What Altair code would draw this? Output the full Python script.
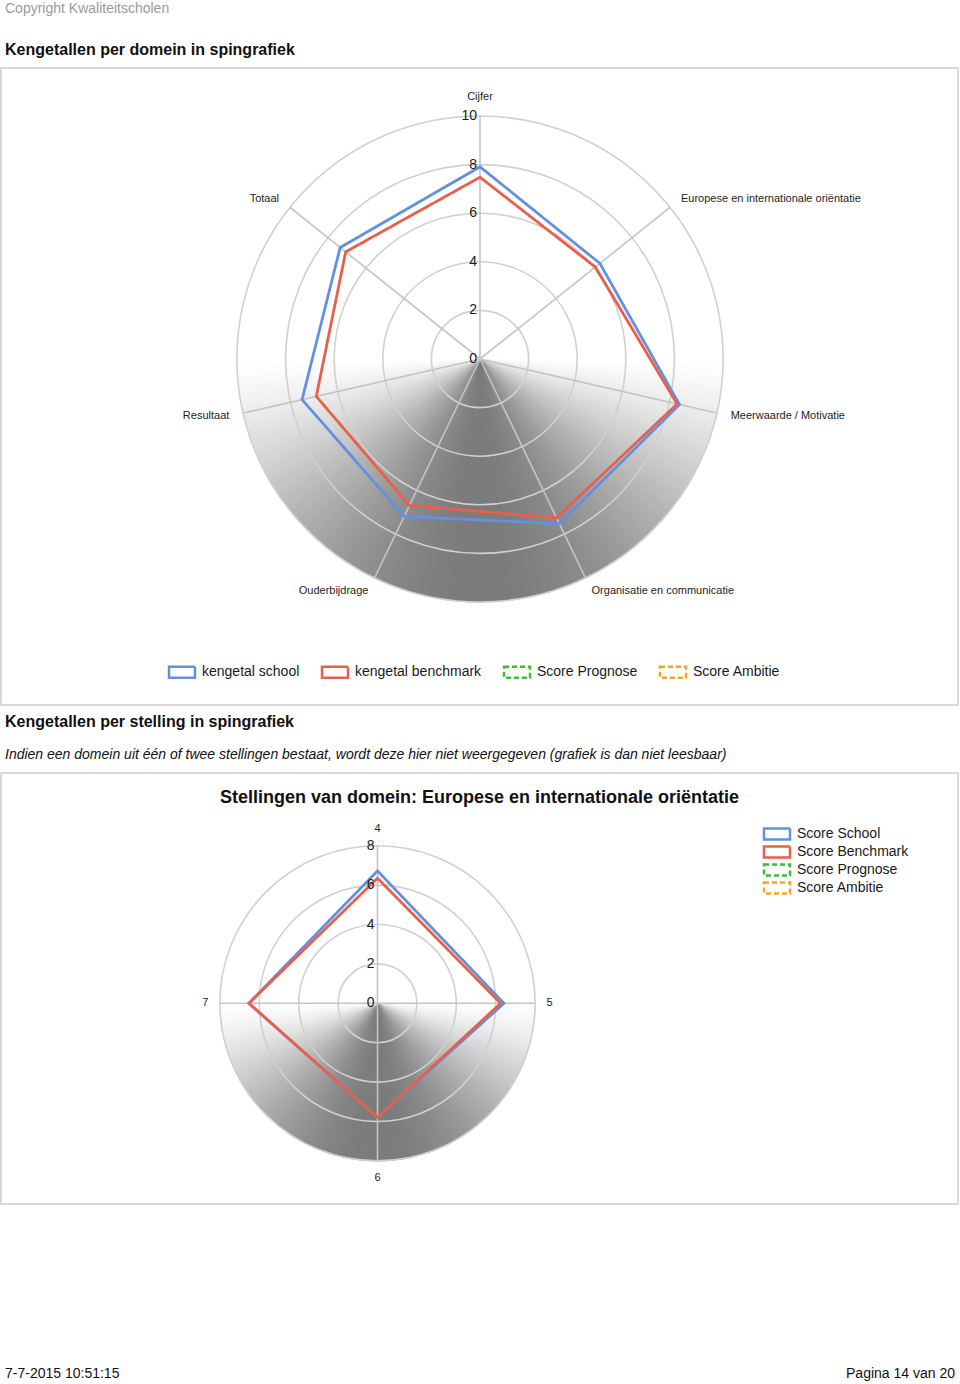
import altair as alt
import pandas as pd

FONT = "Liberation Sans"
W, H = 960, 1384

# ---------------- data: chart 1 (domains) ----------------
domains = [
    "Cijfer",
    "Europese en internationale oriëntatie",
    "Meerwaarde / Motivatie",
    "Organisatie en communicatie",
    "Ouderbijdrage",
    "Resultaat",
    "Totaal",
]
school_1 = [7.91, 6.31, 8.42, 7.52, 7.19, 7.51, 7.36]
bench_1 = [7.48, 6.07, 8.32, 7.26, 6.69, 6.91, 7.07]
ticks_1 = [0, 2, 4, 6, 8, 10]
series_1 = ["kengetal school", "kengetal benchmark", "Score Prognose", "Score Ambitie"]

# ---------------- data: chart 2 (statements) ----------------
statements = ["4", "5", "6", "7"]
school_2 = [6.72, 6.42, 5.79, 6.53]
bench_2 = [6.35, 6.25, 5.79, 6.53]
ticks_2 = [0, 2, 4, 6, 8]
series_2 = ["Score School", "Score Benchmark", "Score Prognose", "Score Ambitie"]

series_colors = ["#6391e0", "#e8604c", "#3dbb3d", "#f0a526"]
series_dashes = [[1, 0], [1, 0], [5, 3], [5, 3]]

# ---------------- page texts ----------------
txt_copyright = "Copyright Kwaliteitscholen"
txt_title1 = "Kengetallen per domein in spingrafiek"
txt_title2 = "Kengetallen per stelling in spingrafiek"
txt_note = "Indien een domein uit één of twee stellingen bestaat, wordt deze hier niet weergegeven (grafiek is dan niet leesbaar)"
txt_chart2 = "Stellingen van domein: Europese en internationale oriëntatie"
txt_date = "7-7-2015 10:51:15"
txt_page = "Pagina 14 van 20"

# wide rectangle legend symbol (drawn twice as wide as its layout size)
RECT_SYMBOL = "M-2,-0.84H2V0.84H-2Z"
NW = 140  # wedges for the shaded lower half


def radar(cats, s_vals, b_vals, ticks, series, px, cx, cy, lab_r, legend):
    n = len(cats)
    rmax = max(ticks)
    X = alt.Scale(domain=[-cx / px, (W - cx) / px], nice=False, zero=False)
    Y = alt.Scale(domain=[-(H - cy) / px, cy / px], nice=False, zero=False)
    R = alt.Scale(type="linear", domain=[0, rmax], range=[0, rmax * px], nice=False, zero=True)

    def xy(xf, yf):
        return dict(
            x=alt.X(xf, scale=X, axis=None),
            y=alt.Y(yf, scale=Y, axis=None),
        )

    # shaded lower half (angular gradient)
    shade = (
        alt.Chart(pd.DataFrame({"k": list(range(NW))}))
        .transform_calculate(
            t0=f"PI/2 + datum.k*PI/{NW}",
            t1=f"PI/2 + (datum.k+1)*PI/{NW} + 0.003",
            phi=f"abs(PI/2 + (datum.k+0.5)*PI/{NW} - PI)",
            g="round(255 - 132*pow(cos(datum.phi), 1.3))",
            col="'rgb(' + datum.g + ',' + datum.g + ',' + datum.g + ')'",
            cx="0",
            cy="0",
            rr=f"{rmax}",
        )
        .mark_arc(strokeWidth=0.7)
        .encode(
            **xy("cx:Q", "cy:Q"),
            theta=alt.Theta("t0:Q", scale=None, stack=False),
            theta2="t1:Q",
            radius=alt.Radius("rr:Q", scale=R, stack=False),
            fill=alt.Fill("col:N", scale=None),
            stroke=alt.Stroke("col:N", scale=None),
        )
    )

    circles = (
        alt.Chart(pd.DataFrame({"r": [t for t in ticks if t > 0]}))
        .transform_calculate(cx="0", cy="0")
        .mark_arc(fillOpacity=0, stroke="#d0d0d0", strokeWidth=1.6)
        .encode(
            **xy("cx:Q", "cy:Q"),
            theta=alt.value(0),
            theta2=alt.value(6.2832),
            radius=alt.Radius("r:Q", scale=R, stack=False),
        )
    )

    spokes = (
        alt.Chart(pd.DataFrame({"i": list(range(n))}))
        .transform_calculate(
            a=f"2*PI*datum.i/{n}",
            x0="0",
            y0="0",
            x1=f"{rmax}*sin(datum.a)",
            y1=f"{rmax}*cos(datum.a)",
        )
        .mark_rule(color="#c4c4c4", strokeWidth=1.6)
        .encode(**xy("x0:Q", "y0:Q"), x2="x1:Q", y2="y1:Q")
    )

    poly_df = pd.DataFrame(
        {
            "series": [series[0]] * n + [series[1]] * n,
            "i": list(range(n)) * 2,
            "value": list(s_vals) + list(b_vals),
        }
    )

    def poly(name):
        return (
            alt.Chart(poly_df)
            .transform_filter(alt.datum.series == name)
            .transform_calculate(
                a=f"2*PI*datum.i/{n}",
                px="datum.value*sin(datum.a)",
                py="datum.value*cos(datum.a)",
            )
            .mark_line(interpolate="linear-closed", strokeWidth=2.8)
            .encode(
                **xy("px:Q", "py:Q"),
                order="i:Q",
                color=alt.Color(
                    "series:N",
                    scale=alt.Scale(domain=series, range=series_colors),
                    legend=legend,
                ),
                strokeDash=alt.StrokeDash(
                    "series:N",
                    scale=alt.Scale(domain=series, range=series_dashes),
                    legend=legend,
                ),
            )
        )

    lab_base = alt.Chart(pd.DataFrame({"i": list(range(n)), "name": cats})).transform_calculate(
        a=f"2*PI*datum.i/{n}",
        lx=f"{lab_r}*sin(datum.a)",
        ly=f"{lab_r}*cos(datum.a)",
        s="sin(datum.a)",
        c="cos(datum.a)",
    )
    lstyle = dict(font=FONT, fontSize=11, color="#1e1e1e")
    lenc = dict(**xy("lx:Q", "ly:Q"), text="name:N")
    lab_l = lab_base.transform_filter("datum.s > 0.05").mark_text(
        align="left", baseline="middle", **lstyle).encode(**lenc)
    lab_r_ = lab_base.transform_filter("datum.s < -0.05").mark_text(
        align="right", baseline="middle", **lstyle).encode(**lenc)
    lab_t = lab_base.transform_filter("abs(datum.s) <= 0.05 && datum.c > 0").mark_text(
        align="center", baseline="bottom", **lstyle).encode(**lenc)
    lab_b = lab_base.transform_filter("abs(datum.s) <= 0.05 && datum.c < 0").mark_text(
        align="center", baseline="top", **lstyle).encode(**lenc)

    tick_lab = (
        alt.Chart(pd.DataFrame({"t": ticks}))
        .transform_calculate(x0="0")
        .mark_text(align="right", baseline="middle", dx=-3, font=FONT, fontSize=14, color="#1a1a1a")
        .encode(**xy("x0:Q", "t:Q"), text="t:Q")
    )

    return alt.layer(
        shade, circles, spokes, poly(series[0]), poly(series[1]),
        lab_l, lab_r_, lab_t, lab_b, tick_lab,
    )


legend_1 = alt.Legend(
    title=None, orient="none", legendX=174, legendY=664, direction="horizontal",
    symbolType=RECT_SYMBOL, symbolSize=169, symbolStrokeWidth=2.5, symbolFillColor="white",
    symbolOpacity=1, labelFont=FONT, labelFontSize=14, labelColor="#1a1a1a",
    labelOffset=12, columnPadding=17, labelLimit=300,
)

radar1 = radar(domains, school_1, bench_1, ticks_1, series_1, 24.3, 480, 359, 10.58, legend_1)
radar2 = radar(statements, school_2, bench_2, ticks_2, series_2, 19.7, 377.5, 1003.3, 8.58, None)

# ---- legend of chart 2, stacked list at the right of the panel ----
leg2_df = pd.DataFrame({"i": list(range(len(series_2))), "name": series_2})
leg2_y = alt.Y(
    "i:O",
    scale=alt.Scale(type="point", domain=list(range(len(series_2))), range=[834, 888], padding=0),
    axis=None,
)
leg2_sym = (
    alt.Chart(leg2_df)
    .mark_point(shape=RECT_SYMBOL, size=169, filled=False, fill="white", strokeWidth=2.5, opacity=1)
    .encode(
        x=alt.value(777),
        y=leg2_y,
        color=alt.Color("name:N", scale=alt.Scale(domain=series_2, range=series_colors), legend=None),
        strokeDash=alt.StrokeDash("name:N", scale=alt.Scale(domain=series_2, range=series_dashes), legend=None),
    )
)
leg2_txt = (
    alt.Chart(leg2_df)
    .mark_text(align="left", baseline="middle", font=FONT, fontSize=14, color="#1a1a1a")
    .encode(x=alt.value(797), y=leg2_y, text="name:N")
)
legend2 = alt.layer(leg2_sym, leg2_txt)


def box(x1, x2, y1, y2):
    return (
        alt.Chart(pd.DataFrame({"b": [0]}))
        .mark_rect(fill="white", stroke="#d9d9d9", strokeWidth=2)
        .encode(x=alt.value(x1), x2=alt.value(x2), y=alt.value(y1), y2=alt.value(y2))
    )


def label(text, x, y, size, weight="normal", style="normal", color="#111111", align="left"):
    return (
        alt.Chart(pd.DataFrame({"t": [text]}))
        .mark_text(font=FONT, fontSize=size, fontWeight=weight, fontStyle=style,
                   color=color, align=align, baseline="middle")
        .encode(text="t:N", x=alt.value(x), y=alt.value(y))
    )


page = [
    box(1, 958, 68, 705),
    box(1, 958, 773, 1204),
    label(txt_copyright, 5, 9, 14, color="#9a9a9a"),
    label(txt_title1, 5, 50, 16, weight="bold"),
    label(txt_title2, 5, 722, 16, weight="bold"),
    label(txt_note, 5, 755, 14, style="italic"),
    label(txt_chart2, 479.5, 798, 18, weight="bold", align="center"),
    label(txt_date, 5, 1374, 14),
    label(txt_page, 955, 1374, 14, align="right"),
]

chart = (
    alt.layer(*page, radar1, radar2, legend2)
    .resolve_scale(
        x="independent", y="independent", radius="independent",
        color="independent", strokeDash="independent",
    )
    .properties(width=W, height=H, padding=0, autosize=alt.AutoSizeParams(type="none"),
                background="white")
    .configure_view(stroke="transparent")
)

chart.save("out.html", embed_options={"renderer": "svg", "actions": False})
